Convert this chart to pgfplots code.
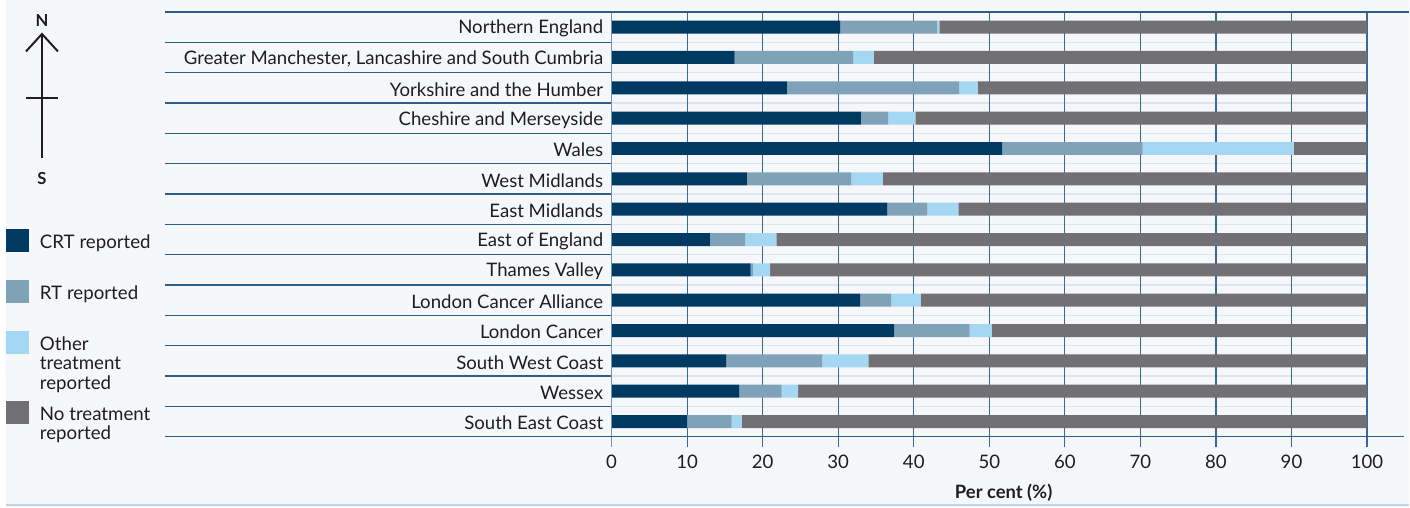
\documentclass[border=0pt]{standalone}
\usepackage{fontspec}
\setmainfont{Lato}
\usepackage{pgfplots}
\usepackage{pgfplotstable}
\pgfplotsset{compat=1.18}
\definecolor{crt}{HTML}{003A63}
\definecolor{rt}{HTML}{80A2B9}
\definecolor{oth}{HTML}{A5D7F3}
\definecolor{notreat}{HTML}{717175}
\definecolor{bg}{HTML}{F5F7FA}
\definecolor{gridb}{HTML}{3A6890}
\definecolor{rowb}{HTML}{2E5E88}
\definecolor{rowl}{HTML}{DDE4EB}
\definecolor{zerol}{HTML}{6F95B5}
\definecolor{txt}{HTML}{1E1E1E}
\pgfplotsset{tallimage/.style={legend image code/.code={\fill[##1] (0pt,-5.75pt) rectangle (11.5pt,5.75pt); \path (0pt,-15.25pt) -- (0pt,5.75pt);}}}

\pgfplotstableread{
y crt rt oth notr
13 30.3 12.8 0.3 56.6
12 16.3 15.7 2.7 65.3
11 23.2 22.8 2.5 51.5
10 33.0 3.6 3.6 59.8
9 51.7 18.6 20.0 9.7
8 17.9 13.8 4.2 64.1
7 36.5 5.3 4.1 54.1
6 13.0 4.7 4.1 78.2
5 18.4 0.3 2.3 79.0
4 32.9 4.1 3.9 59.1
3 37.4 10.0 2.9 49.7
2 15.2 12.7 6.1 66.0
1 16.9 5.6 2.2 75.3
0 10.0 5.9 1.3 82.8
}\data

\begin{document}
\begin{tikzpicture}
\begin{scope}[x=0.5pt,y=-0.5pt,shift={(0pt,253.5pt)}]
\fill[white] (0,0) rectangle (1410,507);
\fill[bg] (6,0) rectangle (1410,507);
\draw[color={rgb,255:red,195;green,211;blue,226}, line width=1pt] (6,505.5) -- (1410,505.5);
\foreach \k in {1,...,13} {
  \draw[rowb, line width=0.6pt] (165,{12+30.357*\k}) -- (612,{12+30.357*\k});
  \draw[rowl, line width=0.6pt] (612,{12+30.357*\k}) -- (1368,{12+30.357*\k});
}
% compass
\draw[line width=1pt, txt] (42,158) -- (42,34);
\draw[line width=1pt, txt, line join=miter] (26,51.5) -- (42,34) -- (58,51.5);
\draw[line width=1pt, txt] (26,98) -- (58,98);
\node[font=\bfseries\fontsize{8.3}{10}\selectfont, txt] at (42,21) {N};
\node[font=\bfseries\fontsize{8.3}{10}\selectfont, txt] at (42,179) {S};
\end{scope}

\begin{axis}[
  at={(306pt,35pt)}, anchor=south west,
  scale only axis, width=378pt, height=212.5pt,
  xbar stacked, bar width=6.5pt,
  xmin=0, xmax=100, ymin=-0.5, ymax=13.5,
  xtick={0,10,...,100},
  ytick={0,...,13},
  yticklabels={South East Coast, Wessex, South West Coast, London Cancer, London Cancer Alliance, Thames Valley, East of England, East Midlands, West Midlands, Wales, Cheshire and Merseyside, Yorkshire and the Humber, {Greater Manchester, Lancashire and South Cumbria}, Northern England},
  axis line style={draw=none},
  xtick pos=lower, ytick pos=left,
  tick align=outside, major tick length=5pt,
  xtick style={color=gridb, line width=0.6pt},
  ytick style={draw=none},
  xmajorgrids, major grid style={color=gridb, line width=0.6pt},
  /pgf/number format/assume math mode=true,
  tick label style={font=\fontsize{9.3}{11}\selectfont, text=txt},
  xticklabel style={inner sep=0pt, yshift=-4pt},
  yticklabel style={inner sep=0pt, xshift=1pt, yshift=-0.8pt},
  xlabel={\textbf{Per cent (\%)}},
  xlabel style={at={(axis description cs:0.519,0)}, anchor=center, yshift=-28pt, font=\fontsize{9.2}{11}\selectfont, text=txt},
  legend style={at={(-0.8016,0.4894)}, anchor=north west, draw=none, fill=none,
    inner sep=0pt, outer sep=0pt, row sep=14pt, column sep=5.5pt,
    font=\fontsize{9.35}{9.75}\selectfont, nodes={inner sep=0pt, text=txt}},
  legend cell align=left,
  legend image code/.code={\fill[#1] (0pt,-5.75pt) rectangle (11.5pt,5.75pt);},
]
\addplot[fill=crt, draw=none] table[x=crt, y=y] {\data};
\addlegendentry{\raisebox{0pt}[9.5pt][2pt]{CRT reported}}
\addplot[fill=rt, draw=none] table[x=rt, y=y] {\data};
\addlegendentry{\raisebox{0pt}[9.5pt][2pt]{RT reported}}
\addplot[fill=oth, draw=none, tallimage] table[x=oth, y=y] {\data};
\addlegendentry{\raisebox{0pt}[9.5pt][2pt]{\begin{tabular}[t]{@{}l@{}}Other\\treatment\\reported\end{tabular}}}
\addplot[fill=notreat, draw=none] table[x=notr, y=y] {\data};
\addlegendentry{\raisebox{0pt}[9.5pt][2pt]{\begin{tabular}[t]{@{}l@{}}No treatment\\reported\end{tabular}}}
\end{axis}

\begin{scope}[x=0.5pt,y=-0.5pt,shift={(0pt,253.5pt)}]
\draw[zerol, line width=0.8pt] (612,12) -- (612,447);
\draw[rowb, line width=0.7pt] (165,12) -- (1410,12);
\draw[rowb, line width=0.7pt] (165,437) -- (1405,437);
\end{scope}
\end{tikzpicture}
\end{document}
